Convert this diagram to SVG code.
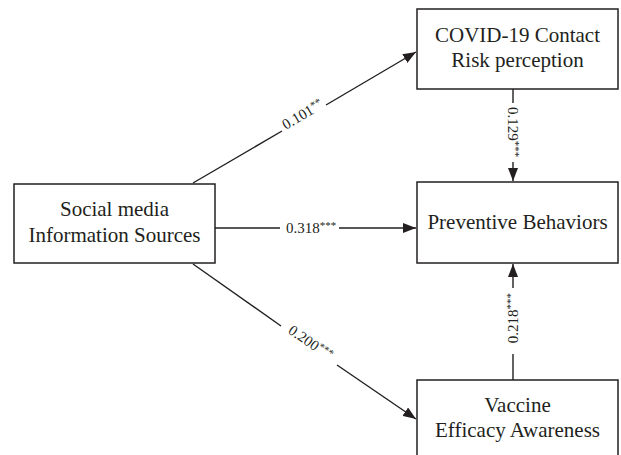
<svg xmlns="http://www.w3.org/2000/svg" width="621" height="455" viewBox="0 0 621 455">
<style>
.box{fill:#fff;stroke:#231f20;stroke-width:1.5}
.t{font-family:"Liberation Serif",serif;font-size:21px;fill:#231f20;text-anchor:middle}
.lbl{font-family:"Liberation Serif",serif;font-size:15px;fill:#231f20;text-anchor:middle}
.st{font-size:11px}
.c{stroke:#231f20;stroke-width:1.4;fill:none}
</style>
<defs>
<marker id="ah" markerUnits="userSpaceOnUse" markerWidth="14" markerHeight="10" refX="13" refY="5" orient="auto">
<path d="M0,0 L13,5 L0,10 Z" fill="#231f20"/>
</marker>
</defs>
<rect width="621" height="455" fill="#fff"/>
<g id="connectors">
<line class="c" x1="193" y1="183" x2="282" y2="131"/>
<line class="c" x1="326" y1="105" x2="416" y2="52" marker-end="url(#ah)"/>
<text class="lbl" transform="translate(304,117) rotate(-30.4)" y="2">0.101<tspan class="st" dy="-4">**</tspan></text>
<line class="c" x1="215" y1="228" x2="280" y2="228"/>
<line class="c" x1="339" y1="228" x2="416" y2="228" marker-end="url(#ah)"/>
<text class="lbl" x="311" y="233">0.318<tspan class="st" dy="-4">***</tspan></text>
<line class="c" x1="193" y1="264" x2="281" y2="326"/>
<line class="c" x1="337" y1="365" x2="416" y2="419" marker-end="url(#ah)"/>
<text class="lbl" transform="translate(309,345) rotate(34.6)" y="2">0.200<tspan class="st" dy="-4">***</tspan></text>
<line class="c" x1="513" y1="89" x2="513" y2="103"/>
<line class="c" x1="513" y1="162" x2="513" y2="181" marker-end="url(#ah)"/>
<text class="lbl" transform="translate(513,132) rotate(90)" y="5">0.129<tspan class="st" dy="-4">***</tspan></text>
<line class="c" x1="513" y1="380" x2="513" y2="354"/>
<line class="c" x1="513" y1="288" x2="513" y2="264" marker-end="url(#ah)"/>
<text class="lbl" transform="translate(513,318) rotate(-90)" y="5">0.218<tspan class="st" dy="-4">***</tspan></text>
</g>
<g id="source">
<rect class="box" x="14" y="184" width="201" height="79"/>
<text class="t" x="114.5" y="216">Social media</text>
<text class="t" x="114.5" y="242">Information Sources</text>
</g>
<g id="covid">
<rect class="box" x="417" y="9" width="201" height="80"/>
<text class="t" x="517.5" y="42">COVID-19 Contact</text>
<text class="t" x="517.5" y="67">Risk perception</text>
</g>
<g id="preventive">
<rect class="box" x="417" y="182" width="201" height="81"/>
<text class="t" x="517.5" y="229">Preventive Behaviors</text>
</g>
<g id="vaccine">
<rect class="box" x="417" y="380" width="201" height="80"/>
<text class="t" x="517.5" y="412">Vaccine</text>
<text class="t" x="517.5" y="437">Efficacy Awareness</text>
</g>
</svg>
